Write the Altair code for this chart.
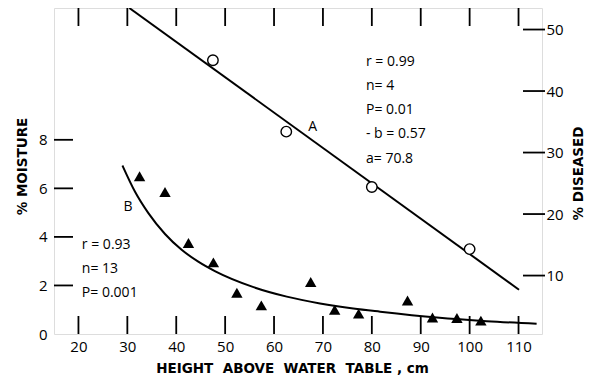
import altair as alt
import pandas as pd

# ---- data ----
tri_x = [32.5, 37.7, 42.5, 47.6, 52.4, 57.4, 67.5, 72.4, 77.3, 87.3, 92.4, 97.4, 102.3]
tri_y = [6.5, 5.85, 3.75, 2.95, 1.7, 1.18, 2.14, 1.0, 0.84, 1.38, 0.68, 0.66, 0.55]

curveB_x = [29.0, 31.6, 34.3, 37.7, 41.1, 44.5, 48.0, 55.8, 62.6, 69.4, 76.2, 81.7, 93.3, 103.5, 113.7]
curveB_y = [6.94, 5.85, 4.98, 4.12, 3.47, 2.98, 2.58, 1.93, 1.54, 1.26, 1.05, 0.92, 0.68, 0.53, 0.42]

circ_x = [47.5, 62.5, 80.0, 100.0]
circ_y = [45.0, 33.4, 24.4, 14.3]

lineA_x = [30.4, 110.1]
lineA_y = [53.5, 7.7]

x_ticks = [20, 30, 40, 50, 60, 70, 80, 90, 100, 110]
left_ticks = [2, 4, 6, 8]
left_labels = [0, 2, 4, 6, 8]
right_ticks = [10, 20, 30, 40, 50]

statsA_text = ["r = 0.99", "n= 4", "P= 0.01", "- b = 0.57", "a= 70.8"]
statsA_y = [11.22, 10.22, 9.22, 8.23, 7.20]
statsA_x = [78.8] * 5
statsB_text = ["r = 0.93", "n= 13", "P= 0.001"]
statsB_y = [3.67, 2.67, 1.69]
statsB_x = [20.7] * 3
curve_labels = ["A", "B"]
curve_label_x = [67.0, 29.2]
curve_label_y = [8.54, 5.25]

W, H = 488, 326
TICK = 18
NUM_FONT = "Open Sans"
TITLE_FONT = "DejaVu Sans"

xscale = alt.Scale(domain=[15, 114.8], nice=False, zero=False)
yLscale = alt.Scale(domain=[0, 13.43], nice=False, zero=False)
yRscale = alt.Scale(domain=[0.5, 53.5], nice=False, zero=False)

xaxis = alt.Axis(values=x_ticks, title="HEIGHT\u00a0\u00a0ABOVE\u00a0\u00a0WATER\u00a0\u00a0TABLE\u00a0, cm",
                 domain=False, ticks=False, grid=False, labelPadding=5,
                 labelFont=NUM_FONT, labelFontSize=15, labelColor="black",
                 titleFont=TITLE_FONT, titleFontSize=13.5, titleFontWeight="bold",
                 titleColor="black", titleX=238, titleY=34, titleBaseline="middle")
yLaxis = alt.Axis(values=left_labels, title="% MOISTURE", orient="left",
                  domain=False, ticks=False, grid=False, labelPadding=7,
                  labelFont=NUM_FONT, labelFontSize=15, labelColor="black",
                  titleFont=TITLE_FONT, titleFontSize=13.5, titleFontWeight="bold",
                  titleColor="black", titleAngle=-90, titleX=-32, titleY=158,
                  titleBaseline="middle", titleAlign="center")
yRaxis = alt.Axis(values=right_ticks, title="% DISEASED", orient="right",
                  domain=False, ticks=False, grid=False, labelPadding=4,
                  labelFont=NUM_FONT, labelFontSize=15, labelColor="black",
                  titleFont=TITLE_FONT, titleFontSize=13.5, titleFontWeight="bold",
                  titleColor="black", titleAngle=-90, titleX=36, titleY=165,
                  titleBaseline="middle", titleAlign="center")

tri_df = pd.DataFrame({"x": tri_x, "y": tri_y})
curveB_df = pd.DataFrame({"x": curveB_x, "y": curveB_y})
circ_df = pd.DataFrame({"x": circ_x, "y": circ_y})
lineA_df = pd.DataFrame({"x": lineA_x, "y": lineA_y})
statsA_df = pd.DataFrame({"x": statsA_x, "y": statsA_y, "t": statsA_text})
statsB_df = pd.DataFrame({"x": statsB_x, "y": statsB_y, "t": statsB_text})
lab_df = pd.DataFrame({"x": curve_label_x, "y": curve_label_y, "t": curve_labels})
xt_df = pd.DataFrame({"v": x_ticks})
lt_df = pd.DataFrame({"v": left_ticks})
rt_df = pd.DataFrame({"v": right_ticks})

X = alt.X("x:Q", scale=xscale, axis=xaxis)
YL = alt.Y("y:Q", scale=yLscale, axis=yLaxis)
YR = alt.Y("y:Q", scale=yRscale, axis=yRaxis)

tri = alt.Chart(tri_df).mark_point(shape="triangle-up", filled=True, color="black",
                                   size=130, opacity=1).encode(x=X, y=YL)
curveB = alt.Chart(curveB_df).mark_line(color="black", strokeWidth=2,
                                        interpolate="monotone").encode(x=X, y=YL)
textA = alt.Chart(statsA_df).mark_text(align="left", baseline="middle", font=NUM_FONT,
                                       fontSize=14, color="black").encode(x=X, y=YL, text="t:N")
textB = alt.Chart(statsB_df).mark_text(align="left", baseline="middle", font=NUM_FONT,
                                       fontSize=14, color="black").encode(x=X, y=YL, text="t:N")
labs = alt.Chart(lab_df).mark_text(align="left", baseline="middle", font=NUM_FONT,
                                   fontSize=14, color="black").encode(x=X, y=YL, text="t:N")
bottom_ticks = alt.Chart(xt_df).mark_rule(color="black", strokeWidth=1.8).encode(
    x=alt.X("v:Q", scale=xscale, axis=xaxis), y=alt.value(H), y2=alt.value(H - TICK))
top_ticks = alt.Chart(xt_df).mark_rule(color="black", strokeWidth=1.8).encode(
    x=alt.X("v:Q", scale=xscale, axis=xaxis), y=alt.value(0), y2=alt.value(TICK))
left_tk = alt.Chart(lt_df).mark_rule(color="black", strokeWidth=1.8).encode(
    y=alt.Y("v:Q", scale=yLscale, axis=yLaxis), x=alt.value(0), x2=alt.value(19))

left_layer = alt.layer(tri, curveB, textA, textB, labs, bottom_ticks, top_ticks, left_tk)

circ = alt.Chart(circ_df).mark_point(shape="circle", filled=True, fill="white",
                                     stroke="black", strokeWidth=1.4, size=110,
                                     opacity=1).encode(x=X, y=YR)
lineA = alt.Chart(lineA_df).mark_line(color="black", strokeWidth=2).encode(x=X, y=YR)
right_tk = alt.Chart(rt_df).mark_rule(color="black", strokeWidth=1.8).encode(
    y=alt.Y("v:Q", scale=yRscale, axis=yRaxis), x=alt.value(W - 19), x2=alt.value(W + 3))

right_layer = alt.layer(lineA, circ, right_tk)

chart = alt.layer(left_layer, right_layer).resolve_scale(y="independent").properties(
    width=W, height=H, autosize="none",
    padding={"left": 46, "top": 0, "right": 45, "bottom": 46},
).configure_view(stroke="black", strokeWidth=1.8).configure(background="white")

chart.save("out.html", embed_options={"renderer": "svg", "actions": False})
